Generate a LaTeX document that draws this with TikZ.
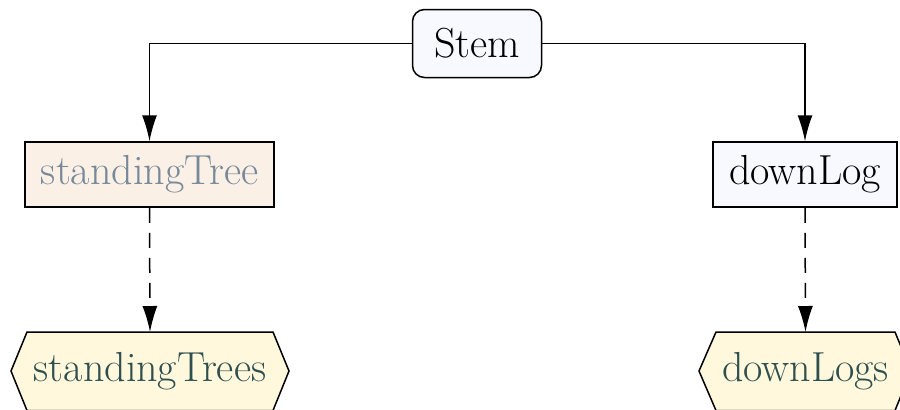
\documentclass[tikz,border=0pt]{standalone}
\usetikzlibrary{arrows.meta}
\definecolor{ghost}{HTML}{F8F8FF}
\definecolor{linenc}{HTML}{FAF0E6}
\definecolor{silk}{HTML}{FFF8DC}
\definecolor{lsgray}{HTML}{778899}
\definecolor{dsgray}{HTML}{2F4F4F}
\tikzset{
  every node/.style={font=\fontsize{21}{25}\selectfont, inner sep=0pt},
  boxnode/.style={draw, line width=0.75pt, rectangle, minimum height=32.5pt},
  hexnode/.style={rectangle, minimum height=39pt},
  hexline/.style={draw, line width=0.75pt},
  arr/.style={line width=0.75pt, -{Latex[length=13pt,width=7.5pt]}},
  dashline/.style={dash pattern=on 7.5pt off 5pt},
}
\begin{document}
\begin{tikzpicture}[x=0.5pt,y=-0.5pt]
\useasboundingbox (0,0) rectangle (900,409);
\node[boxnode, rounded corners=6pt, fill=ghost, minimum width=64.5pt, minimum height=34pt] (stem) at (477,43.5) {Stem};
\node[boxnode, fill=linenc, text=lsgray, minimum width=124.5pt] (st) at (149.5,174.5) {standingTree};
\node[boxnode, fill=ghost, minimum width=92pt] (dl) at (805,174.5) {downLog};
% hexagons
\path[hexline, fill=silk] (27,332) -- (273,332) -- (289,371) -- (273,410.5) -- (27,410.5) -- (11,371) -- cycle;
\path[hexline, fill=silk] (716,332) -- (895,332) -- (911,371) -- (895,410.5) -- (716,410.5) -- (699,371) -- cycle;
\node[hexnode, text=dsgray, anchor=north] (sts) at (150,332) {\raisebox{-1pt}{standingTrees}};
\node[hexnode, text=dsgray, anchor=north] (dls) at (805.5,332) {\raisebox{-1pt}{downLogs}};
\draw[arr] (stem.west) -| (st.north);
\draw[arr] (stem.east) -| (dl.north);
\draw[arr, dashline] (st.south) -- (sts.north);
\draw[arr, dashline] (dl.south) -- (dls.north);
\end{tikzpicture}
\end{document}
